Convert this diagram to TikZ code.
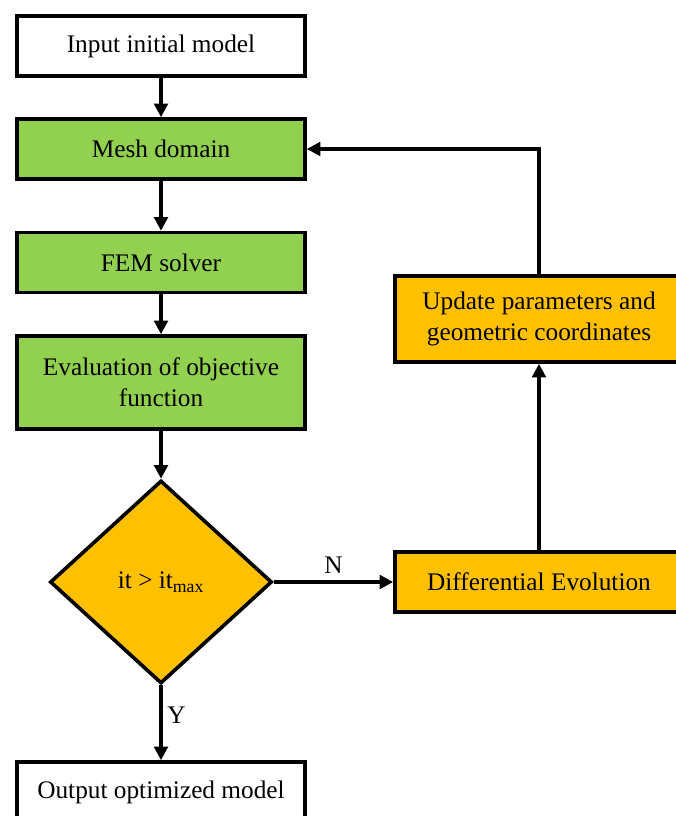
\documentclass[tikz,border=0pt]{standalone}
\usepackage{fontspec}
\setmainfont{Liberation Serif}
\usetikzlibrary{arrows.meta,positioning,shapes.geometric}
\definecolor{boxgreen}{RGB}{146,208,80}
\definecolor{boxorange}{RGB}{255,192,0}
\tikzset{
    block/.style={rectangle, draw, line width=0.09cm, minimum width=7.2cm, minimum height=1.5cm, align=center, font=\fontsize{18}{22}\selectfont},
    decision/.style={diamond, draw, fill=boxorange, line width=0.09cm, minimum width=5.55cm, minimum height=5.075cm, inner sep=0pt, aspect=1.09, font=\fontsize{18}{22}\selectfont},
    flow/.style={line width=0.09cm, -{Triangle[length=3.4mm, width=3.4mm]}},
    tag/.style={font=\fontsize{18}{22}\selectfont}
}

\begin{document}
\begin{tikzpicture}
    \useasboundingbox (0,0) rectangle (16.875,-20.4);
    \def\cx{4.025}
    \def\rx{13.475}
    \node(input) [block] at (\cx,-1.15) {Input initial model};
    \node(mesh) [block, fill=boxgreen] at (\cx,-3.725) {Mesh domain};
    \node(fem) [block, fill=boxgreen] at (\cx,-6.5625) {FEM solver};
    \node(eval) [block, fill=boxgreen, minimum height=2.325cm] at (\cx,-9.5625) {Evaluation of objective\\function};
    \node(check) [decision] at (\cx,-14.55) {it > it\textsubscript{max}};
    \node(evol) [block, fill=boxorange] at (\rx,-14.55) {Differential Evolution};
    \node(update) [block, fill=boxorange, minimum height=2.15cm] at (\rx,-7.975) {Update parameters and\\geometric coordinates};
    \node(output) [block] at (\cx,-19.8) {Output optimized model};

    \draw[flow] (input) -- (mesh);
    \draw[flow] (mesh) -- (fem);
    \draw[flow] (fem) -- (eval);
    \draw[flow] (eval) -- (check);
    \draw[flow] (check) -- node[tag, above, yshift=0.05cm] {N} (evol);
    \draw[flow] (check) -- node[tag, right, pos=0.4] {Y} (output);
    \draw[flow] (evol) -- (update);
    \draw[flow] (update) |- (mesh);
\end{tikzpicture}
\end{document}
